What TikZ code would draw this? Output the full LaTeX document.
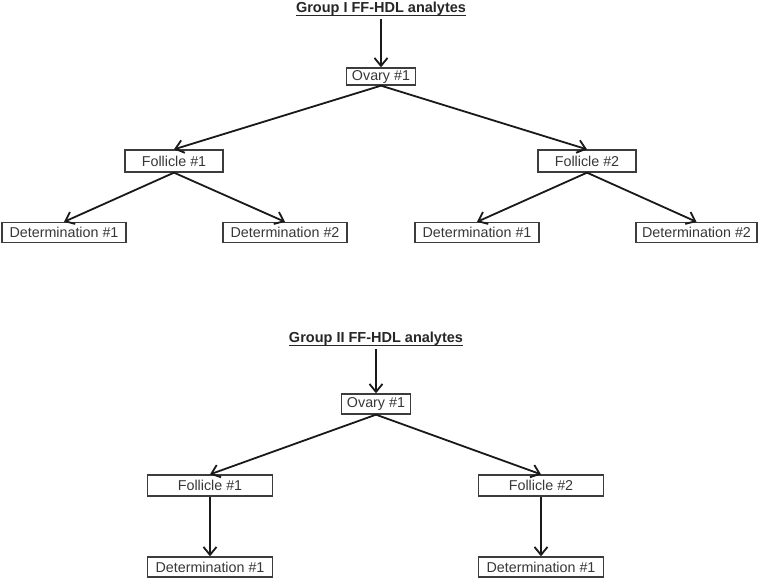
\documentclass[tikz,border=0pt]{standalone}
\usepackage{fontspec}
\setmainfont{Liberation Sans}
\definecolor{boxborder}{RGB}{60, 60, 60}
\definecolor{boxtext}{RGB}{55, 55, 55}
\usetikzlibrary{positioning, calc, arrows.meta}

\begin{document}
\begin{tikzpicture}[x=1pt, y=-1pt,
    sample/.style={draw=boxborder, line width=1.3pt, inner sep=0pt, minimum height=20pt, text=boxtext, font=\fontsize{14.3}{16}\selectfont},
    link/.style={-{Straight Barb[length=8pt, width=13pt, line width=1.8pt]}, line width=1.8pt, color=black!90},
    heading/.style={inner sep=0pt, text=black!85, font=\bfseries\fontsize{14.5}{17}\selectfont}]
    \useasboundingbox (0,0) rectangle (761,579);

    % Group I: title and samples
    \node[heading] (titleI) at (381,9) {Group I FF-HDL analytes};
    \draw[line width=1.2pt, black!85] ([yshift=-2.5pt]titleI.base west) -- ([yshift=-2.5pt]titleI.base east);
    \node[sample, minimum width=69pt, minimum height=17pt] (ovI) at (381,76.5) {Ovary \#1};
    \node[sample, minimum width=98pt, minimum height=22pt] (folIa) at (174,161) {Follicle \#1};
    \node[sample, minimum width=98pt, minimum height=22pt] (folIb) at (587,161) {Follicle \#2};
    \node[sample, minimum width=124pt] (detIa) at (64,232.5) {Determination \#1};
    \node[sample, minimum width=124pt] (detIb) at (285,232.5) {Determination \#2};
    \node[sample, minimum width=124pt] (detIc) at (477,232.5) {Determination \#1};
    \node[sample, minimum width=121pt] (detId) at (696.5,232.5) {Determination \#2};

    \draw[link, shorten <=3pt] (titleI.south) -- (ovI.north);
    \draw[link] (ovI.south) -- (folIa.north);
    \draw[link] (ovI.south) -- (folIb.north);
    \draw[link] (folIa.south) -- (detIa.north);
    \draw[link] (folIa.south) -- (detIb.north);
    \draw[link] (folIb.south) -- (detIc.north);
    \draw[link] (folIb.south) -- (detId.north);

    % Group II: title and samples
    \node[heading] (titleII) at (376,339) {Group II FF-HDL analytes};
    \draw[line width=1.2pt, black!85] ([yshift=-2.5pt]titleII.base west) -- ([yshift=-2.5pt]titleII.base east);
    \node[sample, minimum width=69pt] (ovII) at (376,404) {Ovary \#1};
    \node[sample, minimum width=125pt, minimum height=21pt] (folIIa) at (210,485.5) {Follicle \#1};
    \node[sample, minimum width=125pt, minimum height=21pt] (folIIb) at (541,485.5) {Follicle \#2};
    \node[sample, minimum width=125pt] (detIIa) at (210,567) {Determination \#1};
    \node[sample, minimum width=125pt] (detIIb) at (541,567) {Determination \#1};

    \draw[link, shorten <=3pt] (titleII.south) -- (ovII.north);
    \draw[link] (ovII.south) -- (folIIa.north);
    \draw[link] (ovII.south) -- (folIIb.north);
    \draw[link] (folIIa) -- (detIIa);
    \draw[link] (folIIb) -- (detIIb);
\end{tikzpicture}
\end{document}
